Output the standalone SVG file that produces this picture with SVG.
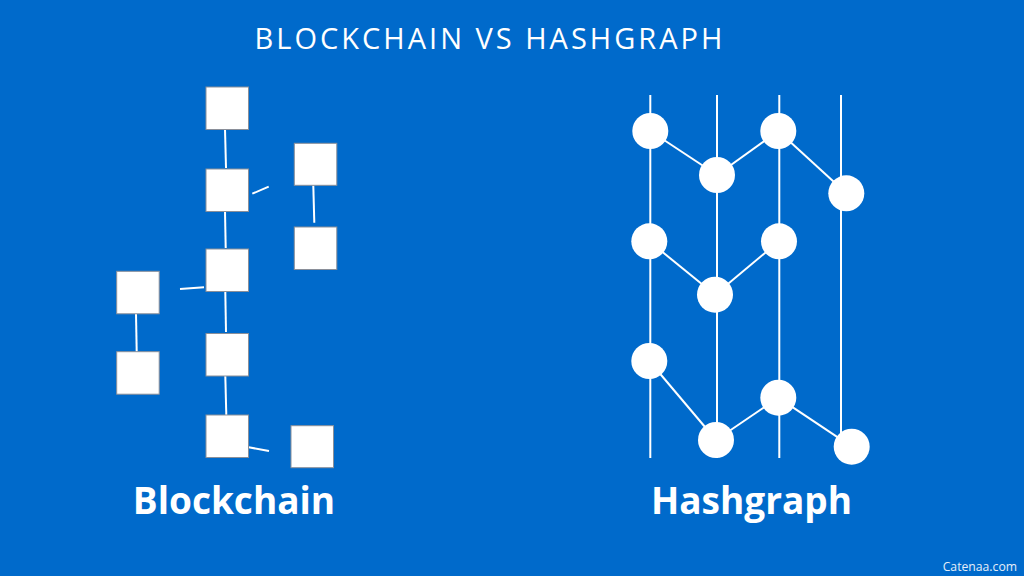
<svg xmlns="http://www.w3.org/2000/svg" width="1024" height="576" viewBox="0 0 1024 576">
<style>
.blk{fill:#fff;stroke:#8a8f99;stroke-width:1}
.ln{stroke:#fff;stroke-width:2;fill:none}
.nd{fill:#fff}
.title{font-family:"Open Sans","Liberation Sans",sans-serif;font-size:29px;fill:#fff;letter-spacing:3px}
.lbl{font-family:"Open Sans","Liberation Sans",sans-serif;font-size:37px;font-weight:700;fill:#fff}
.wm{font-family:"Open Sans","Liberation Sans",sans-serif;font-size:12.2px;fill:#e6eef8}
</style>
<rect width="1024" height="576" fill="#006ACB"/>
<text class="title" x="490" y="49" text-anchor="middle">BLOCKCHAIN VS HASHGRAPH</text>
<g id="connectors">
<line class="ln" x1="225" y1="129" x2="226" y2="168"/>
<line class="ln" x1="225" y1="211" x2="225.7" y2="248"/>
<line class="ln" x1="225.3" y1="291.7" x2="226" y2="332"/>
<line class="ln" x1="225.3" y1="375.7" x2="226.3" y2="415"/>
<line class="ln" x1="252.3" y1="193.7" x2="268.7" y2="186.7"/>
<line class="ln" x1="313.3" y1="185.3" x2="314.3" y2="222.7"/>
<line class="ln" x1="180" y1="289" x2="204" y2="287.3"/>
<line class="ln" x1="136" y1="313.7" x2="136.7" y2="351.7"/>
<line class="ln" x1="248.7" y1="447.3" x2="269" y2="451"/>
<line class="ln" x1="650.3" y1="95" x2="650.3" y2="458"/>
<line class="ln" x1="717" y1="95" x2="717" y2="458"/>
<line class="ln" x1="779.3" y1="95" x2="779.3" y2="458"/>
<line class="ln" x1="841" y1="95" x2="841" y2="446"/>
<line class="ln" x1="650.3" y1="131" x2="717" y2="175"/>
<line class="ln" x1="717" y1="175" x2="778.3" y2="131"/>
<line class="ln" x1="778.3" y1="131" x2="846.3" y2="193.3"/>
<line class="ln" x1="649.3" y1="241.3" x2="715" y2="294.7"/>
<line class="ln" x1="715" y1="294.7" x2="779" y2="241.3"/>
<line class="ln" x1="649.3" y1="361" x2="716" y2="440"/>
<line class="ln" x1="716" y1="440" x2="778.3" y2="397.7"/>
<line class="ln" x1="778.3" y1="397.7" x2="851.7" y2="446.7"/>
</g>
<g id="block1"><rect class="blk" x="206" y="87" width="42.5" height="42.5"/></g>
<g id="block2"><rect class="blk" x="206" y="169" width="42.5" height="42.5"/></g>
<g id="block3"><rect class="blk" x="206" y="249" width="42.5" height="42.5"/></g>
<g id="block4"><rect class="blk" x="206" y="333.5" width="42.5" height="42.5"/></g>
<g id="block5"><rect class="blk" x="206" y="415" width="42.5" height="42.5"/></g>
<g id="fork1a"><rect class="blk" x="294.3" y="143.3" width="42.5" height="42"/></g>
<g id="fork1b"><rect class="blk" x="294.3" y="227" width="42.5" height="42.5"/></g>
<g id="fork2a"><rect class="blk" x="116.7" y="271.3" width="42.5" height="42.5"/></g>
<g id="fork2b"><rect class="blk" x="116.7" y="351.7" width="42.5" height="42.5"/></g>
<g id="fork3"><rect class="blk" x="291" y="425.7" width="42.5" height="42"/></g>
<g id="e1"><circle class="nd" cx="650.3" cy="131" r="18"/></g>
<g id="e2"><circle class="nd" cx="717" cy="175" r="18"/></g>
<g id="e3"><circle class="nd" cx="778.3" cy="131" r="18"/></g>
<g id="e4"><circle class="nd" cx="846.3" cy="193.3" r="18"/></g>
<g id="e5"><circle class="nd" cx="649.3" cy="241.3" r="18"/></g>
<g id="e6"><circle class="nd" cx="779" cy="241.3" r="18"/></g>
<g id="e7"><circle class="nd" cx="715" cy="294.7" r="18"/></g>
<g id="e8"><circle class="nd" cx="649.3" cy="361" r="18"/></g>
<g id="e9"><circle class="nd" cx="778.3" cy="397.7" r="18"/></g>
<g id="e10"><circle class="nd" cx="716" cy="440" r="18"/></g>
<g id="e11"><circle class="nd" cx="851.7" cy="446.7" r="18"/></g>
<text class="lbl" x="234" y="514" text-anchor="middle">Blockchain</text>
<text class="lbl" x="751.5" y="514" text-anchor="middle">Hashgraph</text>
<text class="wm" x="1017" y="571" text-anchor="end">Catenaa.com</text>
</svg>
